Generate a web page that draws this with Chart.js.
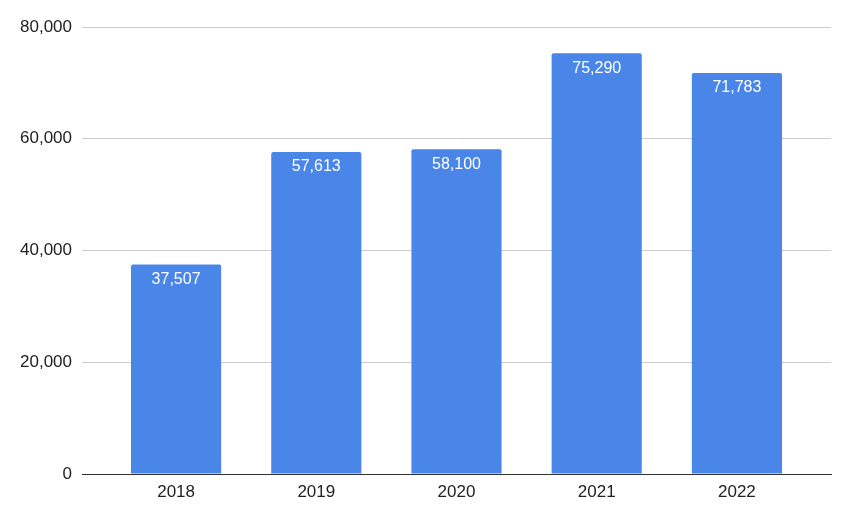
<!DOCTYPE html>
<html>
<head>
<meta charset="utf-8">
<style>
  html, body { margin: 0; padding: 0; background: #fff; }
  #wrap { width: 844px; height: 510px; }
</style>
<script src="https://cdn.jsdelivr.net/npm/chart.js@4"></script>
</head>
<body>
<div id="wrap"><canvas id="chart" width="844" height="510"></canvas></div>
<script>
/* 年別の棒グラフ */

const years = ["2018", "2019", "2020", "2021", "2022"];
const values = [37507, 57613, 58100, 75290, 71783];
const yTicks = [0, 20000, 40000, 60000, 80000];

const FONT = "'Liberation Sans', Arial, sans-serif";
const fmt = (v) => Number(v).toLocaleString("en-US");

// 棒の中に白文字で値を描く
const barLabels = {
  id: "barLabels",
  afterDatasetsDraw(chart) {
    const { ctx } = chart;
    const meta = chart.getDatasetMeta(0);
    ctx.save();
    ctx.fillStyle = "#ffffff";
    ctx.font = `16px ${FONT}`;
    ctx.textAlign = "center";
    ctx.textBaseline = "middle";
    meta.data.forEach((bar, i) => {
      ctx.fillText(fmt(values[i]), bar.x, bar.y + 15);
    });
    ctx.restore();
  },
};

new Chart(document.getElementById("chart"), {
  type: "bar",
  data: {
    datasets: [
      {
        data: years.map((y, i) => ({ x: i, y: values[i] })),
        backgroundColor: "#4a86e8",
        borderRadius: 2,
        categoryPercentage: 1,
        barPercentage: 0.643,
      },
    ],
  },
  plugins: [barLabels],
  options: {
    responsive: false,
    animation: false,
    layout: { padding: { top: 27, right: 13, left: 0, bottom: 0 } },
    plugins: {
      legend: { display: false },
      tooltip: { enabled: false },
    },
    scales: {
      x: {
        type: "linear",
        offset: false,
        min: -0.671,
        max: years.length - 1 + 0.671,
        afterBuildTicks: (scale) => {
          scale.ticks = years.map((_, i) => ({ value: i }));
        },
        afterFit: (scale) => {
          scale.height = 36;
        },
        grid: { display: false, drawTicks: false },
        border: { display: true, color: "#333333", width: 1 },
        ticks: {
          padding: 8,
          color: "#222222",
          font: { family: FONT, size: 17 },
          callback: (v) => years[v] ?? "",
        },
      },
      y: {
        min: 0,
        max: 80000,
        afterBuildTicks: (scale) => {
          scale.ticks = yTicks.map((v) => ({ value: v }));
        },
        afterFit: (scale) => {
          scale.width = 82;
        },
        grid: {
          drawTicks: false,
          color: (c) => (c.tick && c.tick.value === 0 ? "rgba(0,0,0,0)" : "#cccccc"),
        },
        border: { display: false },
        ticks: {
          padding: 10,
          color: "#222222",
          font: { family: FONT, size: 17 },
          callback: (v) => fmt(v),
        },
      },
    },
  },
});
</script>
</body>
</html>
